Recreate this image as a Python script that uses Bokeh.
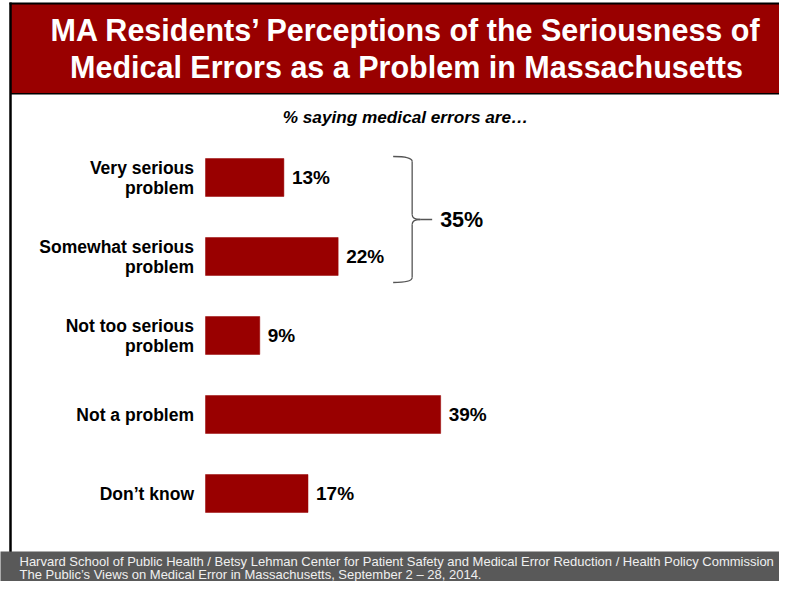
from bokeh.plotting import figure
from bokeh.models import Range1d
from bokeh.core.properties import value
from bokeh.embed import file_html
from bokeh.resources import INLINE

# ---- data ----
categories = ["Very serious\nproblem", "Somewhat serious\nproblem",
              "Not too serious\nproblem", "Not a problem", "Don\u2019t know"]
values = [13, 22, 9, 39, 17]
value_labels = [f"{v}%" for v in values]
bracket_total = values[0] + values[1]
bracket_label = f"{bracket_total}%"
title_lines = ["MA Residents\u2019 Perceptions of the Seriousness of",
               "Medical Errors as a Problem in Massachusetts"]
subtitle = "% saying medical errors are\u2026"
footer_lines = ["Harvard School of Public Health / Betsy Lehman Center for Patient Safety and Medical Error Reduction / Health Policy Commission",
                "The Public\u2019s Views on Medical Error in Massachusetts, September 2 \u2013 28, 2014."]

# ---- layout constants ----
W, H = 779, 581
PX_PER_PCT = 6.03
BAR_LEFT_PX = 205
ROW_PX = 79
FIRST_ROW_PX = 177
RED = "#990000"
FONT = value("Liberation Sans")

x_start = -BAR_LEFT_PX / PX_PER_PCT
x_end = (W - BAR_LEFT_PX) / PX_PER_PCT
y_top = -FIRST_ROW_PX / ROW_PX
y_bottom = y_top + H / ROW_PX


def dx(px):
    return x_start + px / PX_PER_PCT


def dy(py):
    return y_top + py / ROW_PX


p = figure(width=W, height=H, x_range=Range1d(x_start, x_end),
           y_range=Range1d(y_bottom, y_top), output_backend="svg",
           toolbar_location=None, min_border=0, x_axis_location=None,
           y_axis_location=None, outline_line_color=None,
           background_fill_color="white", border_fill_color="white")
p.grid.visible = False

# banner
p.quad(left=dx(10), right=dx(W + 5), top=dy(3), bottom=dy(93),
       fill_color=RED, line_color=None)
p.segment(x0=[dx(9), dx(10)], x1=[dx(W + 5), dx(W + 5)],
          y0=[dy(3), dy(93.2)], y1=[dy(3), dy(93.2)],
          line_color="black", line_width=[2, 1.5])
# left border
p.segment(x0=dx(10), x1=dx(10), y0=dy(2), y1=dy(552),
          line_color="black", line_width=2.5)
# footer
p.quad(left=dx(-5), right=dx(W + 5), top=dy(551), bottom=dy(H + 5),
       fill_color="#595959", line_color=None)

# title
p.text(x=[dx(406)] * 2, y=[dy(29), dy(66)], text=title_lines,
       text_align="center", text_baseline="middle", text_font=FONT,
       text_font_style="bold", text_font_size="30.5px", text_color="white")
# subtitle
p.text(x=[dx(405)], y=[dy(116.5)], text=[subtitle], text_align="center",
       text_baseline="middle", text_font=FONT,
       text_font_style="bold italic", text_font_size="17.2px",
       text_color="black")

# bars
idx = list(range(len(categories)))
p.hbar(y=idx, left=0, right=values, height=0.48, fill_color=RED,
       line_color=RED, line_width=0.5)

# category labels
p.text(x=[0] * len(categories), y=idx, text=categories, x_offset=-11.5,
       text_align="right", text_baseline="middle", text_font=FONT,
       text_font_style="bold", text_font_size="17.5px",
       text_line_height=1.0, text_color="black")
# value labels
p.text(x=values, y=idx, text=value_labels, x_offset=8,
       text_align="left", text_baseline="middle", text_font=FONT,
       text_font_style="bold", text_font_size="19px", text_color="black")

# bracket for first two rows
anchor = max(values[0], values[1])
L = anchor + 55 / PX_PER_PCT
V = anchor + 74 / PX_PER_PCT
T = anchor + 82 / PX_PER_PCT
E = anchor + 94 / PX_PER_PCT
top = idx[0] - 21 / ROW_PX
bot = idx[1] + 26 / ROW_PX
mid = (top + bot) / 2
r = 5 / ROW_PX
BC = "#555555"
BW = 1.3
p.quadratic(x0=[L, V, T, V], y0=[top, mid - r, mid, bot - r],
            x1=[V, T, V, L], y1=[top + r, mid, mid + r, bot],
            cx=[V, V, V, V], cy=[top, mid, mid, bot],
            line_color=BC, line_width=BW)
p.segment(x0=[V, V, T], y0=[top + r, mid + r, mid],
          x1=[V, V, E], y1=[mid - r, bot - r, mid],
          line_color=BC, line_width=BW)
p.text(x=[E], y=[mid], text=[bracket_label], x_offset=8, text_align="left",
       text_baseline="middle", text_font=FONT, text_font_style="bold",
       text_font_size="21.5px", text_color="black")

# footer text
p.text(x=[dx(19)] * 2, y=[dy(561), dy(573.5)], text=footer_lines,
       text_align="left", text_baseline="middle", text_font=FONT,
       text_font_size="13px", text_color="#f0f0f0")

open("out.html", "w").write(file_html(p, INLINE))
